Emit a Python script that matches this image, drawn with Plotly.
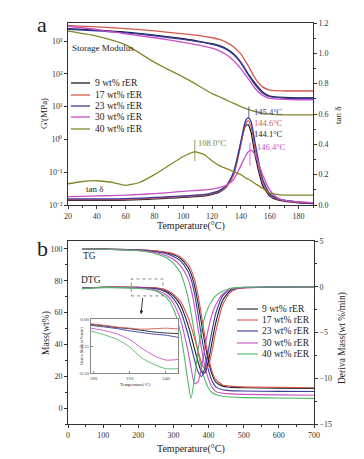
import plotly.graph_objects as go

# ---------------- DATA ----------------
series_names = ["9 wt% rER", "17 wt% rER", "23 wt% rER", "30 wt% rER", "40 wt% rER"]

# Panel a: storage modulus G' (MPa) vs temperature
T_mod = [20, 40, 60, 80, 100, 110, 120, 125, 130, 135, 140, 145, 150, 155, 160, 170, 180, 190]
G_9 = [2400, 2140, 1860, 1510, 1175, 1000, 830, 720, 575, 400, 224, 100, 50, 28, 21, 19, 18.6, 18.6]
G_17 = [2950, 2690, 2400, 2040, 1660, 1480, 1260, 1120, 910, 660, 400, 178, 71, 40, 32, 30, 30, 30]
G_23 = [2290, 2040, 1780, 1450, 1120, 955, 794, 692, 550, 380, 214, 95, 45, 26, 20, 18.2, 17.8, 17.8]
G_30 = [2820, 2240, 1660, 1260, 912, 759, 603, 501, 380, 251, 141, 71, 35, 22, 17.8, 16.6, 16.2, 16.2]
G_40 = [2000, 1410, 760, 224, 79, 45, 25, 20, 15.8, 12.6, 10, 8.3, 7.1, 6.3, 5.9, 5.6, 5.6, 5.6]

# Panel a: tan delta vs temperature
T_tan = [20, 30, 40, 50, 60, 70, 80, 90, 100, 108, 115, 120, 125, 130, 135, 140, 143, 145, 147, 150, 155, 160, 165, 170, 180, 190]
tan_9 = [0.03, 0.03, 0.03, 0.03, 0.032, 0.035, 0.04, 0.045, 0.05, 0.055, 0.06, 0.07, 0.085, 0.12, 0.21, 0.41, 0.52, 0.53, 0.48, 0.32, 0.13, 0.06, 0.035, 0.025, 0.015, 0.01]
tan_17 = [0.035, 0.035, 0.035, 0.035, 0.037, 0.04, 0.045, 0.05, 0.055, 0.06, 0.065, 0.075, 0.09, 0.12, 0.2, 0.4, 0.53, 0.555, 0.52, 0.36, 0.15, 0.07, 0.04, 0.03, 0.018, 0.012]
tan_23 = [0.04, 0.04, 0.04, 0.04, 0.042, 0.045, 0.05, 0.055, 0.06, 0.065, 0.07, 0.08, 0.095, 0.13, 0.22, 0.42, 0.55, 0.575, 0.55, 0.4, 0.17, 0.075, 0.045, 0.032, 0.02, 0.013]
tan_30 = [0.055, 0.057, 0.06, 0.062, 0.065, 0.07, 0.075, 0.082, 0.09, 0.095, 0.1, 0.105, 0.115, 0.13, 0.17, 0.26, 0.32, 0.35, 0.36, 0.33, 0.2, 0.1, 0.05, 0.03, 0.02, 0.015]
tan_40 = [0.14, 0.155, 0.16, 0.15, 0.13, 0.15, 0.2, 0.26, 0.32, 0.35, 0.33, 0.29, 0.26, 0.24, 0.22, 0.2, 0.18, 0.17, 0.16, 0.14, 0.11, 0.08, 0.07, 0.065, 0.065, 0.065]

# Panel b: TG (mass %) vs temperature
T_tg = [40, 100, 200, 250, 280, 300, 320, 340, 350, 360, 370, 380, 390, 400, 410, 420, 440, 460, 500, 600, 700]
TG_9 = [100, 99.9, 99.4, 98.6, 97.6, 96.3, 94, 89, 84.5, 77, 66, 53, 40, 29, 21, 16.5, 13.8, 13.2, 12.8, 12.5, 12.3]
TG_17 = [100, 99.9, 99.5, 98.8, 98, 97, 95, 91, 87, 81, 71, 58, 44, 32, 23, 18, 14.5, 13.8, 13.3, 13, 12.8]
TG_23 = [100, 99.9, 99.3, 98.2, 97, 95.3, 92.5, 86.5, 81, 72, 59, 45, 33, 23.5, 17, 13.5, 11.5, 11, 10.7, 10.5, 10.4]
TG_30 = [100, 99.8, 99.1, 97.6, 95.8, 93.5, 89.5, 82, 75, 64, 50, 37, 26, 18, 13, 10.5, 9.3, 8.9, 8.6, 8.3, 8.1]
TG_40 = [100, 99.8, 98.9, 97, 94.5, 91, 85, 71, 60, 47, 35, 25, 17.5, 12.5, 9.8, 8.5, 7.4, 7, 6.6, 6.3, 6.1]

# Panel b: DTG (wt%/min) vs temperature
T_dtg = [40, 100, 200, 250, 280, 300, 320, 340, 350, 360, 370, 380, 390, 400, 410, 420, 440, 460, 480, 500, 600, 700]
DTG_9 = [-0.15, -0.05, -0.07, -0.15, -0.5, -1.0, -2.0, -4.0, -5.3, -6.8, -8.2, -9.3, -9.4, -8.0, -6.0, -4.0, -1.5, -0.5, -0.2, -0.1, -0.05, -0.02]
DTG_17 = [-0.15, -0.05, -0.06, -0.12, -0.35, -0.8, -1.6, -3.2, -4.3, -5.6, -7.0, -8.3, -9.0, -8.6, -7.0, -5.0, -2.0, -0.7, -0.25, -0.12, -0.05, -0.02]
DTG_23 = [-0.15, -0.06, -0.1, -0.2, -0.6, -1.3, -2.6, -5.0, -6.5, -8.0, -9.3, -9.8, -8.8, -6.8, -4.8, -3.0, -1.0, -0.35, -0.15, -0.08, -0.04, -0.02]
DTG_30 = [-0.2, -0.08, -0.14, -0.35, -0.9, -1.8, -3.6, -6.8, -8.8, -10.6, -10.4, -8.8, -6.5, -4.5, -3.0, -2.0, -0.8, -0.3, -0.12, -0.06, -0.03, -0.02]
DTG_40 = [-0.2, -0.1, -0.19, -0.45, -1.2, -2.4, -5.0, -10.0, -12.2, -10.0, -7.0, -4.8, -3.2, -2.2, -1.5, -1.0, -0.5, -0.2, -0.1, -0.05, -0.03, -0.02]

# Inset: DTG zoom 178-250 C
T_ins = [178, 190, 200, 210, 220, 230, 240, 250]
INS_9 = [-0.05, -0.065, -0.08, -0.09, -0.105, -0.12, -0.13, -0.135]
INS_17 = [-0.045, -0.06, -0.075, -0.085, -0.095, -0.09, -0.085, -0.092]
INS_23 = [-0.06, -0.075, -0.09, -0.11, -0.125, -0.14, -0.15, -0.17]
INS_30 = [-0.085, -0.11, -0.14, -0.19, -0.27, -0.34, -0.38, -0.375]
INS_40 = [-0.11, -0.15, -0.19, -0.26, -0.36, -0.42, -0.46, -0.46]

colors_a = ["#1c1c30", "#d4574e", "#3a3aa0", "#c850c8", "#85852a"]
colors_b = ["#1c1c30", "#d4574e", "#3a3aa0", "#c850c8", "#4fb864"]

FONT = "Liberation Serif"
W, H = 364, 459

def px(x):
    return x / W

def py(y):
    return 1 - y / H

fig = go.Figure()

G_all = [G_9, G_17, G_23, G_30, G_40]
tan_all = [tan_9, tan_17, tan_23, tan_30, tan_40]
TG_all = [TG_9, TG_17, TG_23, TG_30, TG_40]
DTG_all = [DTG_9, DTG_17, DTG_23, DTG_30, DTG_40]
INS_all = [INS_9, INS_17, INS_23, INS_30, INS_40]

for i in range(5):
    fig.add_trace(go.Scatter(x=T_mod, y=G_all[i], mode="lines", line=dict(color=colors_a[i], width=1.3, shape="spline", smoothing=0.6),
                             xaxis="x", yaxis="y", showlegend=False, name=series_names[i]))
for i in range(5):
    fig.add_trace(go.Scatter(x=T_tan, y=tan_all[i], mode="lines", line=dict(color=colors_a[i], width=1.3, shape="spline", smoothing=0.6),
                             xaxis="x", yaxis="y2", showlegend=False, name=series_names[i]))
for i in range(5):
    fig.add_trace(go.Scatter(x=T_tg, y=TG_all[i], mode="lines", line=dict(color=colors_b[i], width=1.1, shape="spline", smoothing=0.6),
                             xaxis="x2", yaxis="y3", showlegend=False, name=series_names[i]))
for i in range(5):
    fig.add_trace(go.Scatter(x=T_dtg, y=DTG_all[i], mode="lines", line=dict(color=colors_b[i], width=1.1, shape="spline", smoothing=0.6),
                             xaxis="x2", yaxis="y4", showlegend=False, name=series_names[i]))
for i in range(5):
    fig.add_trace(go.Scatter(x=T_ins, y=INS_all[i], mode="lines", line=dict(color=colors_b[i], width=0.9, shape="spline", smoothing=0.6),
                             xaxis="x3", yaxis="y5", showlegend=False, name=series_names[i]))

ax_common = dict(showline=True, linecolor="#333", linewidth=1, ticks="outside", ticklen=3, tickcolor="#333", automargin=False,
                 showgrid=False, zeroline=False, tickfont=dict(family=FONT, size=8, color="#333"))
inset_common = dict(showline=True, linecolor="#888", linewidth=0.8, ticks="inside", ticklen=2, tickcolor="#888", automargin=False,
                    showgrid=False, zeroline=False, mirror=True, tickfont=dict(family=FONT, size=5, color="#444"))

fig.update_layout(
    template="none",
    width=W, height=H, autosize=False,
    margin=dict(l=0, r=0, t=0, b=0, pad=0),
    paper_bgcolor="white", plot_bgcolor="white",
    font=dict(family=FONT, color="#222"),
    xaxis=dict(domain=[px(60), px(305)], anchor="y", range=[20, 190], tickvals=[20, 40, 60, 80, 100, 120, 140, 160, 180],
               mirror=True, minor=dict(dtick=10, ticklen=2, tickcolor="#333", ticks="outside"), **ax_common),
    yaxis=dict(domain=[py(197), py(15)], anchor="x", type="log", range=[-2, 3.55],
               tickvals=[0.01, 0.1, 1, 10, 100, 1000],
               ticktext=["10⁻²", "10⁻¹", "10⁰", "10¹", "10²", "10³"],
               **ax_common),
    yaxis2=dict(overlaying="y", side="right", anchor="x", range=[0, 1.2], tickvals=[0, 0.2, 0.4, 0.6, 0.8, 1.0, 1.2],
                ticktext=["0.0", "0.2", "0.4", "0.6", "0.8", "1.0", "1.2"],
                minor=dict(dtick=0.1, ticklen=2, tickcolor="#333", ticks="outside"), **ax_common),
    xaxis2=dict(domain=[px(60), px(306)], anchor="y3", range=[0, 700], tickvals=[0, 100, 200, 300, 400, 500, 600, 700],
                mirror=True, minor=dict(dtick=50, ticklen=2, tickcolor="#333", ticks="outside"), **ax_common),
    yaxis3=dict(domain=[py(416), py(233)], anchor="x2", range=[-10, 105], tickvals=[0, 20, 40, 60, 80, 100],
                minor=dict(dtick=10, ticklen=2, tickcolor="#333", ticks="outside"), **ax_common),
    yaxis4=dict(overlaying="y3", side="right", anchor="x2", range=[-15, 5], tickvals=[-15, -10, -5, 0, 5],
                minor=dict(dtick=2.5, ticklen=2, tickcolor="#333", ticks="outside"), **ax_common),
    xaxis3=dict(domain=[px(83), px(170)], anchor="y5", range=[178, 250], tickvals=[180, 210, 240], **inset_common),
    yaxis5=dict(domain=[py(365), py(311)], anchor="x3", range=[-0.5, 0], tickvals=[-0.5, -0.25, 0],
                ticktext=["-0.50", "-0.25", "0.00"], **inset_common),
)

ann = []
def text(x, y, s, size=9, color="#222", xanchor="left", yanchor="middle", angle=0, xref="paper", yref="paper"):
    ann.append(dict(x=x, y=y, xref=xref, yref=yref, text=s, showarrow=False, xanchor=xanchor, yanchor=yanchor,
                    textangle=angle, font=dict(family=FONT, size=size, color=color)))

# panel labels
text(px(27), py(16), "a", size=22, xanchor="left")
text(px(27), py(240), "b", size=22, xanchor="left")

# panel a texts
text(px(62), py(40), "Storage Modulus", size=9)
text(px(76), py(181), "tan δ", size=9)
text(px(36), py(106), "G'(MPa)", size=9, xanchor="center", angle=-90)
text(px(330), py(107), "tan δ", size=9, xanchor="center", angle=-90)
text(px(183), py(218), "Temperature(°C)", size=10, xanchor="center")

# peak labels
text(108.8, 0.41, "108.0°C", size=8.5, color=colors_a[4], xref="x", yref="y2")
text(147.5, 0.61, "145.4°C", size=8.5, color=colors_a[2], xref="x", yref="y2")
text(147.5, 0.54, "144.6°C", size=8.5, color=colors_a[1], xref="x", yref="y2")
text(147.5, 0.47, "144.1°C", size=8.5, color=colors_a[0], xref="x", yref="y2")
text(149.5, 0.38, "146.4°C", size=8.5, color=colors_a[3], xref="x", yref="y2")

# legend panel a
leg_a_y = [75, 87, 98, 109, 121]
shapes = []
for i in range(5):
    shapes.append(dict(type="line", xref="paper", yref="paper", x0=px(63), x1=px(82), y0=py(leg_a_y[i]), y1=py(leg_a_y[i]),
                       line=dict(color=colors_a[i], width=1.3)))
    text(px(85), py(leg_a_y[i]), series_names[i], size=9.5)

# legend panel b
leg_b_y = [301, 312, 323, 335, 346]
for i in range(5):
    shapes.append(dict(type="line", xref="paper", yref="paper", x0=px(229), x1=px(250), y0=py(leg_b_y[i]), y1=py(leg_b_y[i]),
                       line=dict(color=colors_b[i], width=1.1)))
    text(px(252), py(leg_b_y[i]), series_names[i], size=9.5)

# peak marker ticks
shapes.append(dict(type="line", xref="x", yref="y2", x0=108, x1=108, y0=0.29, y1=0.43, line=dict(color=colors_a[4], width=0.8)))
shapes.append(dict(type="line", xref="x", yref="y2", x0=145.5, x1=145.5, y0=0.57, y1=0.65, line=dict(color=colors_a[2], width=0.8)))
shapes.append(dict(type="line", xref="x", yref="y2", x0=146.3, x1=146.3, y0=0.26, y1=0.41, line=dict(color=colors_a[3], width=0.8)))

# panel b texts
text(px(73), py(248), "TG", size=9.5)
text(px(71), py(272), "DTG", size=9.5)
text(px(38), py(325), "Mass(wt%)", size=9.5, xanchor="center", angle=-90)
text(px(334), py(330), "Deriva Mass(wt %/min)", size=9.5, xanchor="center", angle=-90)
text(px(183), py(441), "Temperature(°C)", size=10, xanchor="center")

# inset titles
text(px(127), py(376), "Temperature(°C)", size=4.5, xanchor="center")
text(px(73), py(338), "Deriva Mass(wt%/min)", size=4, xanchor="center", angle=-90)

# dashed zoom box and arrow
shapes.append(dict(type="rect", xref="x2", yref="y4", x0=180, x1=270, y0=-1.0, y1=0.85,
                   line=dict(color="#666", width=0.8, dash="dot")))
ann.append(dict(x=208, y=-3.0, xref="x2", yref="y4", ax=213, ay=-1.05, axref="x2", ayref="y4",
                showarrow=True, arrowhead=2, arrowsize=0.8, arrowwidth=0.9, arrowcolor="#222", text=""))

fig.update_layout(annotations=ann, shapes=shapes)

fig.write_html("out.html")
